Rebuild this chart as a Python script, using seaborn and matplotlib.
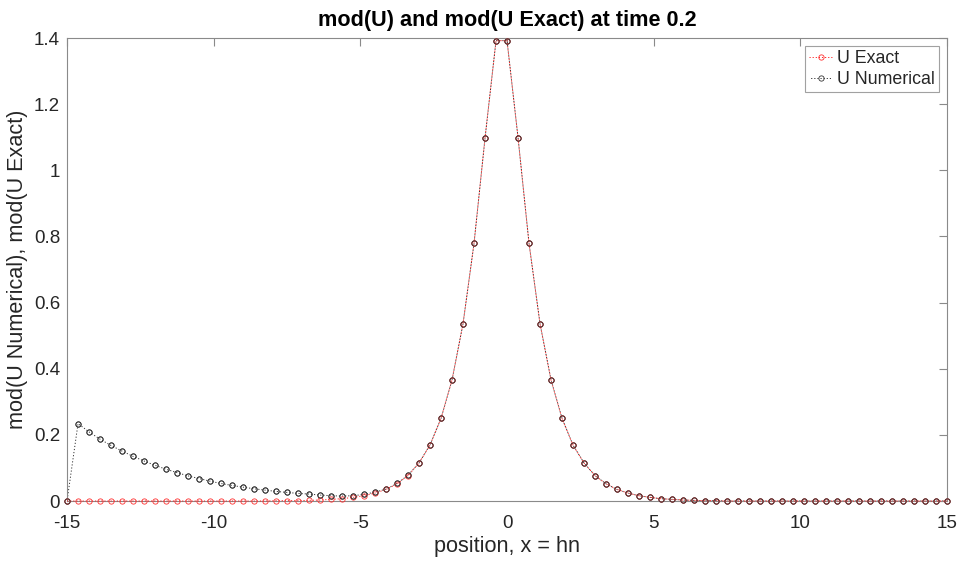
import numpy as np
import pandas as pd
import matplotlib
matplotlib.use("Agg")
import matplotlib.pyplot as plt
import seaborn as sns

# grid positions x = h*n, 81 nodes from -15 to 15
x_pos = np.linspace(-15, 15, 81)

u_exact = [0, 0, 0, 0, 0, 0, 0, 0, 0, 0,
           0, 0, 0, 0, 0, 0, 0, 0, 0, 0.001,
           0.001, 0.001, 0.002, 0.003, 0.005, 0.007, 0.011, 0.016, 0.024, 0.035,
           0.052, 0.077, 0.115, 0.169, 0.250, 0.366, 0.536, 0.779, 1.098, 1.392,
           1.392, 1.099, 0.779, 0.536, 0.366, 0.250, 0.169, 0.115, 0.077, 0.052,
           0.035, 0.024, 0.016, 0.011, 0.007, 0.005, 0.003, 0.002, 0.001, 0.001,
           0, 0, 0, 0, 0, 0, 0, 0, 0, 0,
           0, 0, 0, 0, 0, 0, 0, 0, 0, 0, 0]

u_numerical = [0, 0.234, 0.209, 0.187, 0.168, 0.151, 0.135, 0.121, 0.108, 0.096,
               0.086, 0.076, 0.068, 0.060, 0.053, 0.047, 0.042, 0.037, 0.033, 0.029,
               0.026, 0.023, 0.021, 0.018, 0.016, 0.015, 0.016, 0.020, 0.027, 0.036,
               0.053, 0.078, 0.115, 0.170, 0.250, 0.366, 0.536, 0.779, 1.097, 1.392,
               1.392, 1.099, 0.779, 0.536, 0.366, 0.250, 0.169, 0.115, 0.077, 0.052,
               0.035, 0.024, 0.016, 0.011, 0.007, 0.005, 0.003, 0.002, 0.001, 0.001,
               0, 0, 0, 0, 0, 0, 0, 0, 0, 0,
               0, 0, 0, 0, 0, 0, 0, 0, 0, 0, 0]

x_ticks = [-15, -10, -5, 0, 5, 10, 15]
y_ticks = [0, 0.2, 0.4, 0.6, 0.8, 1.0, 1.2, 1.4]
y_tick_labels = ["0", "0.2", "0.4", "0.6", "0.8", "1", "1.2", "1.4"]

title = "mod(U) and mod(U Exact) at time 0.2"
xlabel = "position, x = hn"
ylabel = "mod(U Numerical), mod(U Exact)"

sns.set_style("white")
plt.rcParams["font.family"] = ["Liberation Sans", "DejaVu Sans"]

fig = plt.figure(figsize=(9.59, 5.63), dpi=100)
ax = fig.add_axes([0.0699, 0.1101, 0.9176, 0.8224])

df_e = pd.DataFrame({"x": x_pos, "u": u_exact})
df_n = pd.DataFrame({"x": x_pos, "u": u_numerical})

dot_style = (0, (1.2, 2.0))

sns.lineplot(data=df_e, x="x", y="u", ax=ax, color="#ff2020", linestyle=dot_style,
             linewidth=0.7, marker="o", markersize=3.8, markerfacecolor="none",
             markeredgecolor="#ff3030", markeredgewidth=0.6, label="U Exact",
             estimator=None, clip_on=False, zorder=2.6)
sns.lineplot(data=df_n, x="x", y="u", ax=ax, color="#333333", linestyle=(1.5, (1.2, 2.0)),
             linewidth=0.7, marker="o", markersize=3.8, markerfacecolor="none",
             markeredgecolor="#333333", markeredgewidth=0.6, label="U Numerical",
             estimator=None, clip_on=False, zorder=2.4)
# numerical markers drawn again on top of the exact line
sns.lineplot(data=df_n, x="x", y="u", ax=ax, linestyle="none",
             marker="o", markersize=3.8, markerfacecolor="none",
             markeredgecolor="#333333", markeredgewidth=0.6, legend=False,
             estimator=None, clip_on=False, zorder=2.8)

ax.set_xlim(-15, 15)
ax.set_ylim(0, 1.4)
ax.set_xticks(x_ticks)
ax.set_xticklabels([str(t) for t in x_ticks])
ax.set_yticks(y_ticks)
ax.set_yticklabels(y_tick_labels)

for s in ax.spines.values():
    s.set_visible(True)
    s.set_color("#8a8a8a")
    s.set_linewidth(0.8)

ax.tick_params(direction="in", length=6, width=0.8, color="#8a8a8a",
               labelsize=13.5, labelcolor="#262626", top=True, right=True,
               labeltop=False, labelright=False)
ax.tick_params(axis="x", pad=10)
ax.tick_params(axis="y", pad=5)

ax.set_title(title, fontsize=15.6, fontweight="bold", color="#000000", pad=9)
ax.set_xlabel(xlabel, fontsize=15.6, color="#262626", labelpad=3)
ax.set_ylabel(ylabel, fontsize=15.6, color="#262626", labelpad=4)

leg = ax.legend(loc="upper right", fontsize=12.8, frameon=True, fancybox=False,
                edgecolor="#8a8a8a", handlelength=1.3, handletextpad=0.25,
                borderpad=0.25, labelspacing=0.2, borderaxespad=0.45)
leg.get_frame().set_linewidth(0.8)
for t in leg.get_texts():
    t.set_color("#262626")

fig.savefig("out.png", dpi=100)
